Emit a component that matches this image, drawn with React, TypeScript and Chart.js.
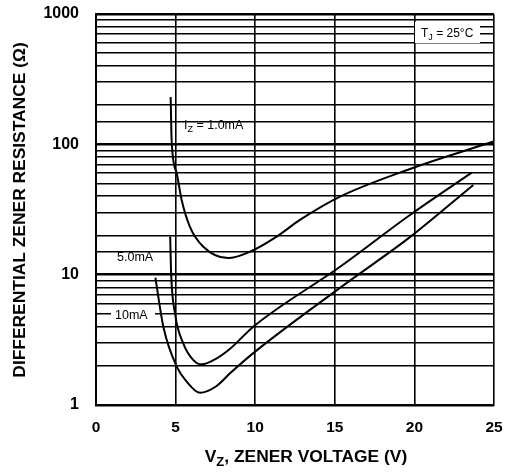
import React, { useEffect, useRef } from 'react';
import { Chart, registerables } from 'chart.js';

Chart.register(...registerables);

// I_Z = 1.0 mA
const vz1mA = [4.69, 4.75, 5.07, 5.38, 5.9, 6.74, 8.3, 9.67, 11.35, 12.81, 15.33, 19.72, 24.96];
const r1mA = [231, 108, 60, 37.4, 23.3, 16.4, 13.4, 15.0, 19.6, 26.3, 39.7, 64.7, 105];
// I_Z = 5.0 mA
const vz5mA = [4.66, 4.71, 4.96, 5.48, 6.1, 6.64, 7.58, 8.42, 9.88, 15.33, 19.72, 23.6];
const r5mA = [19.6, 10.9, 5.06, 2.97, 2.22, 2.05, 2.28, 2.7, 3.99, 11.5, 28.7, 60.7];
// I_Z = 10 mA
const vz10mA = [3.73, 4.23, 5.07, 5.7, 6.53, 7.58, 8.42, 9.88, 15.43, 19.72, 23.7];
const r10mA = [9.5, 3.99, 1.97, 1.51, 1.24, 1.4, 1.75, 2.5, 8.1, 19.4, 48.8];

const xTickValues = [0, 5, 10, 15, 20, 25];
const yTickLabels = ['1', '10', '100', '1000'];

const FONT = '"Liberation Sans", Arial, Helvetica, sans-serif';

type Part = { text: string; sub?: boolean };

function drawRich(
  ctx: CanvasRenderingContext2D,
  parts: Part[],
  x: number,
  y: number,
  size: number,
  weight: string,
  align: 'left' | 'center'
) {
  const subSize = Math.round(size * 0.72);
  const widths = parts.map((p) => {
    ctx.font = `${weight} ${p.sub ? subSize : size}px ${FONT}`;
    return ctx.measureText(p.text).width;
  });
  const total = widths.reduce((a, b) => a + b, 0);
  let cx = align === 'center' ? x - total / 2 : x;
  ctx.textBaseline = 'middle';
  ctx.textAlign = 'left';
  ctx.fillStyle = '#000';
  parts.forEach((p, i) => {
    ctx.font = `${weight} ${p.sub ? subSize : size}px ${FONT}`;
    ctx.fillText(p.text, cx, p.sub ? y + size * 0.32 : y);
    cx += widths[i];
  });
}

const annotations = {
  id: 'annotations',
  afterDraw(chart: any) {
    const ctx: CanvasRenderingContext2D = chart.ctx;
    ctx.save();
    // white boxes behind in-grid labels
    ctx.fillStyle = '#fff';
    ctx.fillRect(111, 310, 44, 12);
    ctx.fillRect(415, 22, 65, 21);

    drawRich(ctx, [{ text: 'I' }, { text: 'Z', sub: true }, { text: ' = 1.0mA' }], 184, 126, 12.5, 'normal', 'left');
    drawRich(ctx, [{ text: '5.0mA' }], 117, 258, 12.5, 'normal', 'left');
    drawRich(ctx, [{ text: '10mA' }], 115, 316, 12.5, 'normal', 'left');
    drawRich(ctx, [{ text: 'T' }, { text: 'J', sub: true }, { text: ' = 25°C' }], 421, 34, 12, 'normal', 'left');

    // x axis title
    drawRich(
      ctx,
      [{ text: 'V' }, { text: 'Z', sub: true }, { text: ', ZENER VOLTAGE (V)' }],
      306,
      457,
      17.4,
      'bold',
      'center'
    );
    // y axis title
    ctx.translate(20, 210);
    ctx.rotate(-Math.PI / 2);
    drawRich(ctx, [{ text: 'DIFFERENTIAL ZENER RESISTANCE (Ω)' }], 0, 0, 17.4, 'bold', 'center');
    ctx.restore();
  },
};

function isDecade(v: number) {
  const l = Math.log10(v);
  return Math.abs(l - Math.round(l)) < 1e-9;
}

export default function App() {
  const ref = useRef<HTMLCanvasElement>(null);

  useEffect(() => {
    if (!ref.current) return;
    const mk = (xs: number[], ys: number[]) => xs.map((x, i) => ({ x, y: ys[i] }));
    const lineStyle = {
      showLine: true,
      borderColor: '#000',
      borderWidth: 2,
      pointRadius: 0,
      fill: false,
      cubicInterpolationMode: 'monotone' as const,
    };
    const chart = new Chart(ref.current, {
      type: 'scatter',
      data: {
        datasets: [
          { label: '1.0mA', data: mk(vz1mA, r1mA), ...lineStyle },
          { label: '5.0mA', data: mk(vz5mA, r5mA), ...lineStyle },
          { label: '10mA', data: mk(vz10mA, r10mA), ...lineStyle },
        ],
      },
      options: {
        animation: false,
        responsive: false,
        layout: { padding: { left: 0, right: 12, top: 14, bottom: 0 } },
        plugins: { legend: { display: false }, tooltip: { enabled: false } },
        scales: {
          x: {
            type: 'linear',
            min: 0,
            max: 25,
            afterBuildTicks: (s: any) => {
              s.ticks = xTickValues.map((v) => ({ value: v }));
            },
            ticks: {
              color: '#000',
              font: { family: FONT, size: 15.5, weight: 'bold' },
              padding: 13,
              maxRotation: 0,
            },
            grid: { color: '#000', lineWidth: 1.6, drawTicks: false },
            border: { color: '#000', width: 2 },
            afterFit: (s: any) => {
              s.height = 67;
              s.paddingLeft = 0;
              s.paddingRight = 0;
              s.paddingTop = 0;
              s.paddingBottom = 0;
            },
          },
          y: {
            type: 'logarithmic',
            min: 1,
            max: 1000,
            ticks: {
              color: '#000',
              font: { family: FONT, size: 16, weight: 'bold' },
              padding: 17,
              autoSkip: false,
              callback: (v: any) => {
                const n = Number(v);
                if (!isDecade(n)) return '';
                const idx = Math.round(Math.log10(n));
                return yTickLabels[idx] ?? '';
              },
            },
            grid: {
              color: '#000',
              lineWidth: (c: any) => (c.tick && isDecade(c.tick.value) ? 2.6 : 1.5),
              drawTicks: false,
            },
            border: { color: '#000', width: 2 },
            afterFit: (s: any) => {
              s.width = 96;
              s.paddingLeft = 0;
              s.paddingRight = 0;
              s.paddingTop = 0;
              s.paddingBottom = 0;
            },
          },
        },
      },
      plugins: [annotations],
    });
    return () => chart.destroy();
  }, []);

  return (
    <div style={{ position: 'fixed', left: 0, top: 0, width: 506, height: 472, background: '#fff' }}>
      <canvas ref={ref} width={506} height={472} style={{ display: 'block' }} />
    </div>
  );
}
